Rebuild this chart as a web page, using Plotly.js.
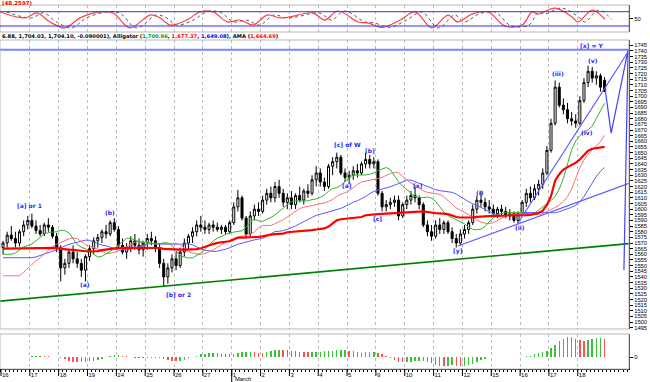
<!DOCTYPE html>
<html><head><meta charset="utf-8">
<script src="https://cdn.plot.ly/plotly-3.0.1.min.js"></script>
<style>html,body{margin:0;padding:0;background:#fff}#chart{width:650px;height:382px}</style>
</head><body><div id="chart"></div>
<script>
// ---- data (hourly bars, 7 per day) ----
const dayLabels = ['16','17','18','19','24','25','26','27','1','2','3','4','5','9','10','11','12','15','16','17','18'];
const barsPerDay = 7;
const openP = [1566,1570,1577,1574,1570,1580,1586, 1590,1585,1581,1578,1586,1584,1576, 1566,1548,1552,1562,1556,1552,1546,
 1558,1565,1572,1575,1580,1578,1588, 1582,1568,1562,1566,1572,1568,1564, 1570,1574,1572,1566,1552,1540,1548,
 1556,1550,1562,1570,1576,1580,1586, 1584,1582,1586,1584,1582,1584,1580, 1588,1602,1610,1592,1578,1594,1600,
 1598,1608,1614,1610,1620,1614,1606, 1610,1604,1612,1608,1616,1614,1626, 1632,1624,1620,1638,1642,1646,1632,
 1628,1630,1634,1632,1640,1644,1640, 1642,1614,1602,1604,1606,1608,1594, 1604,1608,1612,1610,1604,1586,1580,
 1576,1586,1582,1588,1580,1574,1570, 1578,1582,1588,1600,1608,1606,1602, 1600,1596,1600,1598,1594,1596,1590,
 1596,1606,1614,1610,1618,1622,1632, 1652,1676,1708,1692,1688,1680,1678, 1676,1696,1712,1722,1716,1718,1714];
const highP = [1572,1580,1585,1580,1582,1590,1594, 1596,1590,1586,1588,1592,1586,1579, 1568,1556,1565,1568,1562,1556,1560,
 1568,1575,1578,1582,1586,1590,1592, 1585,1574,1570,1576,1578,1574,1572, 1578,1580,1576,1570,1556,1552,1560,
 1562,1566,1574,1578,1584,1590,1594, 1590,1588,1590,1588,1586,1586,1590, 1606,1617,1612,1594,1598,1604,1606,
 1612,1618,1620,1624,1626,1618,1614, 1616,1614,1620,1618,1622,1630,1638, 1636,1628,1640,1646,1650,1648,1636,
 1634,1638,1640,1642,1650,1648,1646, 1644,1616,1608,1610,1612,1612,1606, 1612,1616,1620,1612,1606,1590,1586,
 1590,1592,1590,1590,1584,1578,1582, 1586,1590,1604,1612,1616,1610,1608, 1604,1602,1604,1602,1600,1598,1598,
 1608,1618,1620,1622,1626,1636,1656, 1680,1714,1712,1698,1694,1686,1684, 1700,1716,1727,1726,1722,1720,1716.88];
const lowP = [1560,1566,1572,1566,1567,1576,1582, 1583,1578,1576,1576,1580,1574,1562, 1536,1542,1548,1552,1548,1540,1536,
 1554,1560,1566,1570,1574,1576,1580, 1566,1560,1556,1562,1564,1560,1558, 1564,1568,1562,1548,1531,1534,1544,
 1546,1548,1558,1564,1570,1576,1580, 1578,1578,1580,1580,1578,1578,1578, 1586,1598,1590,1574,1576,1590,1594,
 1596,1604,1606,1606,1610,1602,1600, 1600,1600,1606,1604,1610,1612,1620, 1620,1616,1618,1630,1636,1630,1624,
 1622,1626,1628,1630,1636,1636,1636, 1612,1598,1598,1600,1602,1590,1592, 1600,1604,1606,1600,1584,1576,1572,
 1574,1578,1578,1578,1570,1566,1568, 1574,1578,1586,1596,1602,1598,1596, 1594,1592,1594,1592,1590,1588,1587,
 1594,1602,1606,1608,1612,1618,1630, 1650,1674,1690,1684,1676,1674,1672, 1674,1694,1708,1712,1710,1704,1704.03];
const closeP = [1570,1577,1574,1570,1580,1586,1590, 1585,1581,1578,1586,1584,1576,1566, 1548,1552,1562,1556,1552,1546,1558,
 1565,1572,1575,1580,1578,1588,1582, 1568,1562,1566,1572,1568,1564,1570, 1574,1572,1566,1552,1540,1548,1556,
 1550,1562,1570,1576,1580,1586,1584, 1582,1586,1584,1582,1584,1580,1588, 1602,1610,1592,1578,1594,1600,1598,
 1608,1614,1610,1620,1614,1606,1610, 1604,1612,1608,1616,1614,1626,1632, 1624,1620,1638,1642,1646,1632,1628,
 1630,1634,1632,1640,1644,1640,1642, 1614,1602,1604,1606,1608,1594,1604, 1608,1612,1610,1604,1586,1580,1576,
 1586,1582,1588,1580,1574,1570,1578, 1582,1588,1600,1608,1606,1602,1600, 1596,1600,1598,1594,1596,1590,1596,
 1606,1614,1610,1618,1622,1632,1652, 1676,1708,1692,1688,1680,1678,1676, 1696,1712,1722,1716,1718,1708,1704.10];

// indicator starting values read at the left edge
const lipsStart = 1560, teethStart = 1541, jawStart = 1557, amaStart = 1565;

// oscillator (top pane) read points: bar position, value
const oscX = [-0.74,5.3,8.2,11.4,15,18.7,23.5,26.7,30.8,35.7,38.1,40.5,44.6,47.8,51,54.4,57.5,60.7,64.1,67.2,69.6,75.2,78.1,81.3,86.2,88.6,92,96.4,100,104.1,108,110.4,113.8,117.7,121.8,126,128.4,129.8,134,138.1,139.6,143,146.1];
const oscV = [79,54,75,37,12,54,79,75,12,66,54,24,45,79,79,37,45,24,66,54,58,75,45,83,37,33,14,45,79,12,66,37,70,79,20,24,79,70,95,58,37,87,48];

// trend lines drawn by the analyst (bar position, price)
const supportX = [-0.74,151.93], supportY = [1518.6,1569.5];
const channelX = [110.4,151.93], channelY = [1567.4,1622.8];
const steepX = [125.0,151.7], steepY = [1587.7,1739.1];
const projX = [146.1,147.6,151.7,150.7], projY = [1707.2,1667.3,1740.8,1546.1];
const topLineY = 1741;

const waveLabels = ['[a] or 1','(b)','(a)','[b] or 2','[c] of W','[b]','[a]','[c]','[x]','[y]','(i)','(ii)','(iii)','(iv)','(v)','[x] = Y'];
const waveX = [6.5,26,19.9,42.5,83.7,89.1,83.5,91,100.7,110.4,115.8,125.5,134.7,141.7,143.2,142.9];
const waveY = [1603,1597,1533,1524,1657,1652,1621,1592,1621,1563,1615,1584,1720,1668,1732,1744.5];

// ---- derived indicators ----
const n = closeP.length;
const xs = closeP.map((_, i) => i);
const median = highP.map((h, i) => (h + lowP[i]) / 2);
function smmaShift(period, shift, seed) {
  const out = []; let s = seed;
  for (let i = 0; i < n; i++) { const j = i - shift; if (j >= 0) s = (s * (period - 1) + median[j]) / period; out.push(s); }
  return out;
}
function kama(erN, fast, slow, seed) {
  const f = 2 / (fast + 1), sl = 2 / (slow + 1); const out = []; let k = seed;
  for (let i = 0; i < n; i++) {
    if (i >= erN) {
      const ch = Math.abs(closeP[i] - closeP[i - erN]); let vol = 0;
      for (let j = i - erN + 1; j <= i; j++) vol += Math.abs(closeP[j] - closeP[j - 1]);
      const er = vol ? ch / vol : 0; const sc = Math.pow(er * (f - sl) + sl, 2);
      k = k + sc * (closeP[i] - k);
    }
    out.push(k);
  }
  return out;
}
function sma(arr, p, i) { const s = Math.max(0, i - p + 1); let t = 0; for (let j = s; j <= i; j++) t += arr[j]; return t / (i - s + 1); }
const lips = smmaShift(5, 3, lipsStart), teeth = smmaShift(8, 5, teethStart), jaw = smmaShift(13, 8, jawStart);
const ama = kama(10, 4, 50, amaStart);
const ao = median.map((_, i) => sma(median, 5, i) - sma(median, 34, i));
const aoCol = ao.map((v, i) => (i === 0 || v >= ao[i - 1]) ? '#3cbf3c' : '#ff5050');

const tickvals = dayLabels.map((_, d) => d * barsPerDay - 0.5);

const traces = [
  {type:'bar', x:xs, y:ao, xaxis:'x', yaxis:'y', marker:{color:aoCol}, width:0.35, hoverinfo:'skip'},
  {type:'scatter', mode:'lines', x:supportX, y:supportY, xaxis:'x', yaxis:'y2', line:{color:'#008000', width:1.6}},
  {type:'scatter', mode:'lines', x:[-0.74,151.93], y:[topLineY,topLineY], xaxis:'x', yaxis:'y2', line:{color:'#8080ff', width:2}},
  {type:'scatter', mode:'lines', x:xs, y:jaw, xaxis:'x', yaxis:'y2', line:{color:'#5a5aff', width:1}},
  {type:'scatter', mode:'lines', x:xs, y:teeth, xaxis:'x', yaxis:'y2', line:{color:'#ff7070', width:1}},
  {type:'scatter', mode:'lines', x:xs, y:lips, xaxis:'x', yaxis:'y2', line:{color:'#2db52d', width:1}},
  {type:'scatter', mode:'lines', x:xs, y:ama, xaxis:'x', yaxis:'y2', line:{color:'#ff0000', width:2.2}},
  {type:'candlestick', x:xs, open:openP, high:highP, low:lowP, close:closeP, xaxis:'x', yaxis:'y2',
   increasing:{line:{color:'#000', width:1}, fillcolor:'#ffffff'}, decreasing:{line:{color:'#000', width:1}, fillcolor:'#000'}, whiskerwidth:0},
  {type:'scatter', mode:'lines', x:channelX, y:channelY, xaxis:'x', yaxis:'y2', line:{color:'#5a5aff', width:1.2}},
  {type:'scatter', mode:'lines', x:steepX, y:steepY, xaxis:'x', yaxis:'y2', line:{color:'#5a5aff', width:1.2}},
  {type:'scatter', mode:'lines', x:projX, y:projY, xaxis:'x', yaxis:'y2', line:{color:'#4040ff', width:1.2}},
  {type:'scatter', mode:'lines', x:oscX.map(v => v + 1.6), y:oscV, xaxis:'x', yaxis:'y3', line:{color:'#555', width:1, dash:'dot', shape:'spline'}},
  {type:'scatter', mode:'lines', x:oscX, y:oscV, xaxis:'x', yaxis:'y3', line:{color:'#ff4040', width:1.2, shape:'spline'}}
];

const annotations = waveLabels.map((t, i) => ({x:waveX[i], y:waveY[i], xref:'x', yref:'y2', text:'<b>' + t + '</b>', showarrow:false,
  font:{size:6, color:'#1f1fff', family:'DejaVu Sans, sans-serif'}}));
annotations.push({x:0, y:(369 - 36) / 364, xref:'paper', yref:'paper', xanchor:'left', yanchor:'middle', showarrow:false,
  text:'<b>6.88, 1,704.03, 1,704.10, -0.090001), Alligator (<span style="color:#009900">1,700.96</span>, <span style="color:#ff0000">1,677.37</span>, <span style="color:#0000ff">1,649.08</span>), AMA (<span style="color:#ff0000">1,664.69</span>)</b>',
  font:{size:5.2, color:'#000', family:'DejaVu Sans, sans-serif'}});
annotations.push({x:0, y:(369 - 3) / 364, xref:'paper', yref:'paper', xanchor:'left', yanchor:'middle', showarrow:false,
  text:'<b>(48.2597)</b>', font:{size:5.5, color:'#ff0000', family:'DejaVu Sans, sans-serif'}});
annotations.push({x:55.7, y:(369 - 379.5) / 364, xref:'x', yref:'paper', xanchor:'left', yanchor:'middle', showarrow:false,
  text:'March', font:{size:5.8, color:'#000'}});

const gray = '#b8b8b8';
const shapes = [
  {type:'rect', xref:'paper', yref:'y3 domain', x0:0, x1:1, y0:0, y1:1, line:{color:gray, width:1}},
  {type:'rect', xref:'paper', yref:'y2 domain', x0:0, x1:1, y0:0, y1:1, line:{color:gray, width:1}},
  {type:'rect', xref:'paper', yref:'y domain', x0:0, x1:1, y0:0, y1:1, line:{color:gray, width:1}},
  {type:'line', xref:'paper', yref:'y3', x0:0, x1:1, y0:80, y1:80, line:{color:'#3030ff', width:1}},
  {type:'line', xref:'paper', yref:'y3', x0:0, x1:1, y0:20, y1:20, line:{color:'#3030ff', width:1}},
  {type:'line', xref:'x', yref:'paper', x0:55.5, x1:55.5, y0:0, y1:(369 - 382) / 364, line:{color:'#000', width:1}}
];
tickvals.forEach(t => shapes.push({type:'line', xref:'x', yref:'paper', x0:t, x1:t, y0:0, y1:-7 / 364, line:{color:'#000', width:1}}));

const yCommon = {side:'right', showline:true, linecolor:'#000', linewidth:1, ticks:'outside', ticklen:3, tickcolor:'#000',
  showgrid:false, zeroline:false, tickfont:{size:5.8, color:'#000', family:'Liberation Sans, Arial, sans-serif'}, fixedrange:true};

const layout = {
  width:650, height:382, margin:{l:0, r:21, t:5, b:13}, paper_bgcolor:'#fff', plot_bgcolor:'#fff', showlegend:false,
  font:{family:'Liberation Sans, Arial, sans-serif', size:6, color:'#000'},
  xaxis:{range:[-0.74,151.93], anchor:'y', tickmode:'array', tickvals:tickvals, ticktext:dayLabels, ticks:'outside', ticklen:2,
    tickcolor:'#000', showline:true, linecolor:'#000', linewidth:1, showgrid:true, gridcolor:'#bcbcbc', griddash:'dot', gridwidth:1,
    zeroline:false, ticklabelposition:'outside right', ticklabeloverflow:'allow', tickfont:{size:6, color:'#000'}, rangeslider:{visible:false},
    minor:{tickmode:'linear', tick0:-0.5, dtick:1, ticks:'outside', ticklen:2, tickcolor:'#000', showgrid:false}},
  yaxis:Object.assign({}, yCommon, {domain:[0,0.0962], range:[-45,90], tickvals:[0], ticktext:['0']}),
  yaxis2:Object.assign({}, yCommon, {domain:[0.1099,0.9038], range:[1493.9,1749.7], tickmode:'linear', tick0:1500, dtick:5}),
  yaxis3:Object.assign({}, yCommon, {domain:[0.9258,1], range:[-5.2,108.1], tickvals:[50], ticktext:['50']}),
  annotations:annotations, shapes:shapes, bargap:0
};
Plotly.newPlot('chart', traces, layout, {staticPlot:true, displayModeBar:false});
</script></body></html>
